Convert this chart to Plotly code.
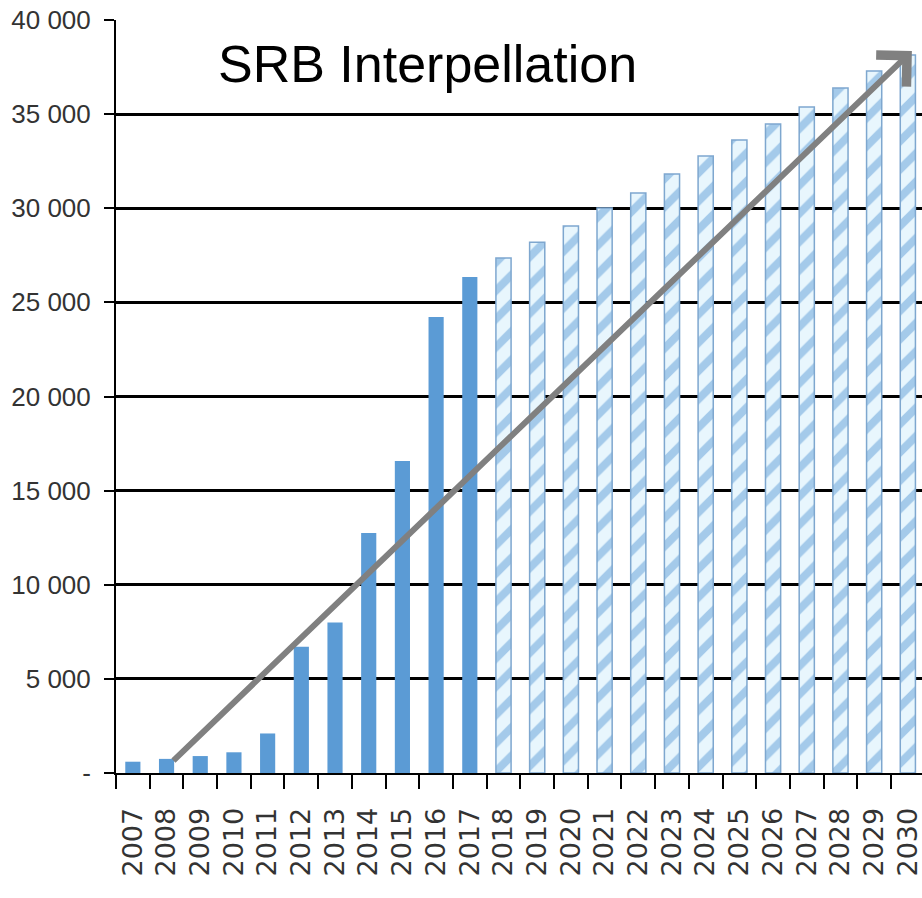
import plotly.graph_objects as go

# Yearly values: recorded years (solid) and projected years (hatched)
years_actual = [str(y) for y in range(2007, 2018)]
values_actual = [600, 750, 900, 1100, 2100, 6700, 8000, 12750, 16570, 24220, 26350]

years_forecast = [str(y) for y in range(2018, 2031)]
values_forecast = [27360, 28200, 29060, 30010, 30810, 31820, 32780,
                   33630, 34470, 35380, 36390, 37290, 38140]

y_ticks = [0, 5000, 10000, 15000, 20000, 25000, 30000, 35000, 40000]
y_tick_labels = ["-", "5 000", "10 000", "15 000", "20 000",
                 "25 000", "30 000", "35 000", "40 000"]

# Trend arrow endpoints (category index, value)
arrow_start = (1.16, 585)
arrow_end = (23.12, 38350)

all_years = years_actual + years_forecast

fig = go.Figure()

fig.add_trace(go.Bar(
    x=years_actual, y=values_actual,
    marker=dict(color="#5b9bd5", line=dict(width=0)),
    width=0.45,
    showlegend=False,
))

fig.add_trace(go.Bar(
    x=years_forecast, y=values_forecast,
    marker=dict(
        color="#e8f6fd",
        line=dict(color="#7ea7cf", width=1.5),
        pattern=dict(shape="/", fgcolor="#5f9ed8", bgcolor="#e8f6fd",
                     size=20, solidity=0.4),
    ),
    width=0.45,
    showlegend=False,
))

fig.add_annotation(
    x=arrow_end[0], y=arrow_end[1], xref="x", yref="y",
    ax=arrow_start[0], ay=arrow_start[1], axref="x", ayref="y",
    text="", showarrow=True,
    arrowhead=4, arrowsize=1.4, arrowwidth=6, arrowcolor="#808080",
    standoff=0, startstandoff=0,
)

fig.add_annotation(
    xref="paper", yref="paper",
    x=(427 - 116) / (922 - 116), y=1 - (64 - 20) / (773 - 20),
    xanchor="center", yanchor="middle",
    text="SRB Interpellation", showarrow=False,
    font=dict(family="Liberation Sans, Arial, sans-serif", size=52, color="#000000"),
)

fig.update_layout(
    width=922, height=898,
    margin=dict(l=116, r=0, t=20, b=125),
    paper_bgcolor="white", plot_bgcolor="white",
    bargap=0.55,
    font=dict(family="Liberation Sans, Arial, sans-serif", color="#222222"),
)

fig.update_xaxes(
    type="category",
    categoryorder="array", categoryarray=all_years,
    range=[-0.5, 23.42],
    tickmode="linear", tick0=0, dtick=1,
    showline=True, linecolor="black", linewidth=2,
    ticks="outside", tickson="boundaries", ticklen=14, tickwidth=2, tickcolor="black",
    tickangle=-90, ticklabelstandoff=22,
    tickfont=dict(family="DejaVu Sans, sans-serif", size=27, color="#333333"),
    showgrid=False,
)

fig.update_yaxes(
    range=[0, 40000],
    tickvals=y_ticks, ticktext=y_tick_labels,
    showline=True, linecolor="black", linewidth=2,
    ticks="outside", ticklen=10, tickwidth=2, tickcolor="black",
    ticklabelstandoff=8,
    tickfont=dict(family="Liberation Sans, Arial, sans-serif",
                  size=26, color="#333333"),
    showgrid=True, gridcolor="black", gridwidth=2.5,
    zeroline=False,
)

fig.write_html("out.html")
